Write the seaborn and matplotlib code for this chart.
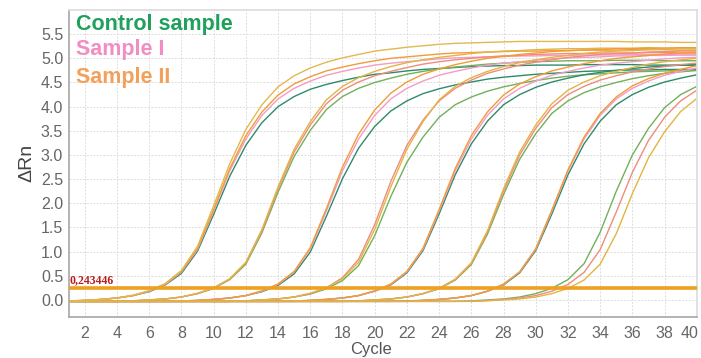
import matplotlib
matplotlib.use("Agg")
import pandas as pd
import matplotlib.pyplot as plt
import matplotlib.transforms as mtransforms
import seaborn as sns

# Cycle numbers and threshold
cycles = list(range(1, 41))
threshold = 0.243446

# dRn values, one list per well (cycle 1..40)
control_1 = [-0.02, -0.01, 0.01, 0.04, 0.09, 0.17, 0.31, 0.55, 1.01, 1.77,
             2.56, 3.2, 3.67, 4.0, 4.21, 4.36, 4.46, 4.54, 4.61, 4.67,
             4.7, 4.74, 4.77, 4.79, 4.81, 4.83, 4.84, 4.85, 4.85, 4.86,
             4.86, 4.86, 4.87, 4.87, 4.87, 4.87, 4.86, 4.86, 4.86, 4.85]
sample1_1 = [-0.03, -0.01, 0.01, 0.04, 0.09, 0.18, 0.32, 0.58, 1.05, 1.84,
             2.67, 3.33, 3.82, 4.16, 4.38, 4.53, 4.65, 4.73, 4.8, 4.86,
             4.9, 4.93, 4.96, 4.99, 5.01, 5.02, 5.03, 5.04, 5.05, 5.05,
             5.06, 5.06, 5.07, 5.07, 5.07, 5.08, 5.08, 5.08, 5.07, 5.07]
sample2_1 = [-0.02, -0.01, 0.01, 0.04, 0.09, 0.19, 0.33, 0.59, 1.07, 1.87,
             2.72, 3.4, 3.89, 4.24, 4.47, 4.62, 4.74, 4.82, 4.89, 4.95,
             5.0, 5.03, 5.06, 5.09, 5.11, 5.12, 5.13, 5.14, 5.15, 5.15,
             5.16, 5.16, 5.17, 5.17, 5.17, 5.18, 5.18, 5.18, 5.17, 5.17]
sample2_top = [-0.03, -0.01, 0.01, 0.04, 0.1, 0.19, 0.34, 0.61, 1.11, 1.95,
               2.82, 3.53, 4.04, 4.41, 4.64, 4.8, 4.92, 5.01, 5.08, 5.15,
               5.19, 5.23, 5.26, 5.29, 5.31, 5.32, 5.33, 5.34, 5.35, 5.35,
               5.35, 5.35, 5.35, 5.35, 5.35, 5.34, 5.34, 5.34, 5.33, 5.33]

control_2 = [-0.03, -0.03, -0.03, -0.03, -0.02, 0.0, 0.02, 0.06, 0.13, 0.24,
             0.42, 0.74, 1.39, 2.23, 2.97, 3.51, 3.94, 4.21, 4.38, 4.5,
             4.59, 4.67, 4.73, 4.78, 4.82, 4.85, 4.88, 4.9, 4.92, 4.93,
             4.94, 4.95, 4.95, 4.95, 4.96, 4.96, 4.96, 4.95, 4.95, 4.95]
sample1_2 = [-0.03, -0.03, -0.03, -0.03, -0.02, 0.0, 0.02, 0.06, 0.13, 0.24,
             0.43, 0.77, 1.43, 2.3, 3.06, 3.62, 4.06, 4.34, 4.51, 4.64,
             4.73, 4.81, 4.88, 4.93, 4.97, 5.0, 5.03, 5.05, 5.06, 5.08,
             5.09, 5.1, 5.1, 5.11, 5.11, 5.11, 5.12, 5.12, 5.11, 5.11]
sample2_2 = [-0.03, -0.03, -0.03, -0.03, -0.02, 0.0, 0.02, 0.06, 0.14, 0.25,
             0.44, 0.78, 1.46, 2.34, 3.12, 3.69, 4.14, 4.42, 4.6, 4.73,
             4.83, 4.91, 4.97, 5.02, 5.06, 5.1, 5.13, 5.15, 5.16, 5.18,
             5.19, 5.2, 5.2, 5.21, 5.21, 5.21, 5.22, 5.21, 5.21, 5.2]

control_3 = [-0.03, -0.03, -0.03, -0.03, -0.03, -0.03, -0.03, -0.02, -0.01, 0.01,
             0.04, 0.09, 0.17, 0.3, 0.54, 0.99, 1.73, 2.51, 3.14, 3.59,
             3.91, 4.12, 4.27, 4.37, 4.45, 4.51, 4.57, 4.61, 4.64, 4.67,
             4.69, 4.71, 4.73, 4.74, 4.75, 4.76, 4.76, 4.77, 4.77, 4.77]
sample1_3 = [-0.03, -0.03, -0.03, -0.03, -0.03, -0.03, -0.03, -0.03, -0.01, 0.01,
             0.04, 0.09, 0.18, 0.32, 0.58, 1.05, 1.84, 2.67, 3.33, 3.82,
             4.16, 4.38, 4.53, 4.65, 4.73, 4.8, 4.86, 4.9, 4.93, 4.96,
             4.99, 5.01, 5.02, 5.03, 5.05, 5.05, 5.06, 5.06, 5.07, 5.07]
sample2_3 = [-0.03, -0.03, -0.03, -0.03, -0.03, -0.03, -0.03, -0.03, -0.01, 0.01,
             0.04, 0.09, 0.19, 0.33, 0.59, 1.08, 1.89, 2.75, 3.43, 3.93,
             4.28, 4.51, 4.67, 4.78, 4.87, 4.94, 5.0, 5.04, 5.08, 5.11,
             5.14, 5.16, 5.17, 5.18, 5.2, 5.2, 5.21, 5.21, 5.22, 5.22]

control_4 = [-0.03, -0.03, -0.03, -0.03, -0.03, -0.03, -0.03, -0.03, -0.03, -0.03,
             -0.03, -0.02, 0.0, 0.02, 0.06, 0.12, 0.23, 0.4, 0.71, 1.33,
             2.14, 2.85, 3.37, 3.78, 4.04, 4.2, 4.32, 4.41, 4.48, 4.54,
             4.59, 4.63, 4.66, 4.68, 4.7, 4.72, 4.73, 4.74, 4.75, 4.75]
sample1_4 = [-0.03, -0.03, -0.03, -0.03, -0.03, -0.03, -0.03, -0.03, -0.03, -0.03,
             -0.03, -0.02, 0.0, 0.02, 0.06, 0.13, 0.25, 0.46, 0.84, 1.56,
             2.45, 3.2, 3.72, 4.12, 4.38, 4.55, 4.69, 4.78, 4.86, 4.92,
             4.97, 5.02, 5.05, 5.08, 5.1, 5.11, 5.13, 5.14, 5.15, 5.15]
sample2_4 = [-0.03, -0.03, -0.03, -0.03, -0.03, -0.03, -0.03, -0.03, -0.03, -0.03,
             -0.03, -0.02, 0.0, 0.02, 0.06, 0.14, 0.25, 0.44, 0.78, 1.46,
             2.34, 3.12, 3.69, 4.14, 4.42, 4.6, 4.73, 4.83, 4.91, 4.97,
             5.02, 5.06, 5.1, 5.13, 5.15, 5.16, 5.18, 5.19, 5.2, 5.2]

control_5 = [-0.03, -0.03, -0.03, -0.03, -0.03, -0.03, -0.03, -0.03, -0.03, -0.03,
             -0.03, -0.03, -0.03, -0.03, -0.02, -0.01, 0.01, 0.04, 0.09, 0.18,
             0.31, 0.56, 1.02, 1.78, 2.59, 3.23, 3.7, 4.04, 4.25, 4.4,
             4.51, 4.59, 4.66, 4.71, 4.75, 4.79, 4.82, 4.84, 4.86, 4.88]
sample1_5 = [-0.03, -0.03, -0.03, -0.03, -0.03, -0.03, -0.03, -0.03, -0.03, -0.03,
             -0.03, -0.03, -0.03, -0.03, -0.03, -0.01, 0.01, 0.04, 0.09, 0.18,
             0.32, 0.58, 1.05, 1.84, 2.67, 3.33, 3.82, 4.16, 4.38, 4.53,
             4.65, 4.73, 4.8, 4.86, 4.9, 4.93, 4.96, 4.99, 5.01, 5.02]
sample2_5 = [-0.03, -0.03, -0.03, -0.03, -0.03, -0.03, -0.03, -0.03, -0.03, -0.03,
             -0.03, -0.03, -0.03, -0.03, -0.03, -0.01, 0.01, 0.04, 0.09, 0.19,
             0.33, 0.59, 1.07, 1.87, 2.72, 3.4, 3.89, 4.24, 4.47, 4.62,
             4.74, 4.82, 4.89, 4.95, 5.0, 5.03, 5.06, 5.09, 5.11, 5.12]

control_6 = [-0.03, -0.03, -0.03, -0.03, -0.03, -0.03, -0.03, -0.03, -0.03, -0.03,
             -0.03, -0.03, -0.03, -0.03, -0.03, -0.03, -0.03, -0.03, -0.02, 0.0,
             0.02, 0.06, 0.13, 0.23, 0.41, 0.73, 1.36, 2.18, 2.91, 3.44,
             3.86, 4.12, 4.29, 4.41, 4.5, 4.58, 4.64, 4.69, 4.72, 4.75]
sample1_6 = [-0.03, -0.03, -0.03, -0.03, -0.03, -0.03, -0.03, -0.03, -0.03, -0.03,
             -0.03, -0.03, -0.03, -0.03, -0.03, -0.03, -0.03, -0.03, -0.02, 0.0,
             0.02, 0.06, 0.13, 0.24, 0.42, 0.75, 1.4, 2.25, 3.0, 3.55,
             3.98, 4.25, 4.42, 4.55, 4.64, 4.72, 4.78, 4.83, 4.87, 4.9]
sample2_6 = [-0.03, -0.03, -0.03, -0.03, -0.03, -0.03, -0.03, -0.03, -0.03, -0.03,
             -0.03, -0.03, -0.03, -0.03, -0.03, -0.03, -0.03, -0.03, -0.02, 0.0,
             0.02, 0.06, 0.13, 0.24, 0.43, 0.77, 1.43, 2.3, 3.06, 3.62,
             4.06, 4.34, 4.51, 4.64, 4.73, 4.81, 4.88, 4.93, 4.97, 5.0]

control_7 = [-0.03, -0.03, -0.03, -0.03, -0.03, -0.03, -0.03, -0.03, -0.03, -0.03,
             -0.03, -0.03, -0.03, -0.03, -0.03, -0.03, -0.03, -0.03, -0.03, -0.03,
             -0.03, -0.02, -0.01, 0.01, 0.04, 0.09, 0.18, 0.31, 0.56, 1.02,
             1.78, 2.59, 3.23, 3.7, 4.04, 4.25, 4.4, 4.51, 4.59, 4.66]
sample1_7 = [-0.03, -0.03, -0.03, -0.03, -0.03, -0.03, -0.03, -0.03, -0.03, -0.03,
             -0.03, -0.03, -0.03, -0.03, -0.03, -0.03, -0.03, -0.03, -0.03, -0.03,
             -0.03, -0.03, -0.01, 0.01, 0.04, 0.09, 0.18, 0.32, 0.58, 1.05,
             1.84, 2.67, 3.33, 3.82, 4.16, 4.38, 4.53, 4.65, 4.73, 4.8]
sample2_7 = [-0.03, -0.03, -0.03, -0.03, -0.03, -0.03, -0.03, -0.03, -0.03, -0.03,
             -0.03, -0.03, -0.03, -0.03, -0.03, -0.03, -0.03, -0.03, -0.03, -0.03,
             -0.03, -0.03, -0.01, 0.01, 0.04, 0.09, 0.18, 0.33, 0.58, 1.06,
             1.86, 2.69, 3.37, 3.86, 4.2, 4.43, 4.58, 4.69, 4.77, 4.85]

control_8 = [-0.03, -0.03, -0.03, -0.03, -0.03, -0.03, -0.03, -0.03, -0.03, -0.03,
             -0.03, -0.03, -0.03, -0.03, -0.03, -0.03, -0.03, -0.03, -0.03, -0.03,
             -0.03, -0.03, -0.03, -0.03, -0.03, -0.02, 0.0, 0.02, 0.06, 0.13,
             0.24, 0.42, 0.75, 1.4, 2.25, 3.0, 3.55, 3.98, 4.25, 4.42]
sample1_8 = [-0.03, -0.03, -0.03, -0.03, -0.03, -0.03, -0.03, -0.03, -0.03, -0.03,
             -0.03, -0.03, -0.03, -0.03, -0.03, -0.03, -0.03, -0.03, -0.03, -0.03,
             -0.03, -0.03, -0.03, -0.03, -0.03, -0.03, -0.01, 0.01, 0.04, 0.09,
             0.18, 0.32, 0.57, 1.04, 1.82, 2.64, 3.3, 3.78, 4.12, 4.34]
sample2_8 = [-0.03, -0.03, -0.03, -0.03, -0.03, -0.03, -0.03, -0.03, -0.03, -0.03,
             -0.03, -0.03, -0.03, -0.03, -0.03, -0.03, -0.03, -0.03, -0.03, -0.03,
             -0.03, -0.03, -0.03, -0.03, -0.03, -0.03, -0.02, 0.0, 0.02, 0.06,
             0.13, 0.24, 0.41, 0.74, 1.37, 2.2, 2.94, 3.48, 3.9, 4.17]

control_curves = [control_1, control_2, control_3, control_4,
                  control_5, control_6, control_7, control_8]
sample1_curves = [sample1_1, sample1_2, sample1_3, sample1_4,
                  sample1_5, sample1_6, sample1_7, sample1_8]
sample2_curves = [sample2_1, sample2_2, sample2_3, sample2_4,
                  sample2_5, sample2_6, sample2_7, sample2_8, sample2_top]

# Colour shades per sample
control_colors = ["#2e8a6c", "#72b05a"]
sample1_colors = ["#f29cc8", "#ef8c7e"]
sample2_colors = ["#f29b38", "#e2b445"]

# Long-form table for seaborn
rows = []
palette = {}
for prefix, curves, shades in [("ctrl", control_curves, control_colors),
                               ("s1", sample1_curves, sample1_colors),
                               ("s2", sample2_curves, sample2_colors)]:
    for i, vals in enumerate(curves):
        name = f"{prefix}_{i}"
        palette[name] = shades[i % 2]
        for c, v in zip(cycles, vals):
            rows.append({"cycle": c, "value": v, "curve": name})
df = pd.DataFrame(rows)
palette["s2_8"] = "#e3b84e"

sns.set_theme(style="white")
plt.rcParams["font.family"] = ["Liberation Sans", "DejaVu Sans"]

fig = plt.figure(figsize=(7.01, 3.58), dpi=100)
ax = fig.add_axes([0.098, 0.115, 0.896, 0.857])

sns.lineplot(data=df, x="cycle", y="value", hue="curve", units="curve",
             estimator=None, palette=palette, linewidth=1.0, legend=False,
             sort=False, ax=ax)

# Threshold line and its label
ax.axhline(threshold, color="#f0a020", linewidth=2.6, zorder=5)
ax.text(1.05, threshold + 0.05, "0,243446", color="#b81c1c", fontsize=8.5,
        fontweight="bold", family=["Liberation Serif", "DejaVu Serif"],
        va="bottom", ha="left", zorder=6)

# Axis setup
ax.set_xlim(1, 40)
ax.set_ylim(-0.35, 6.0)
ax.set_xticks(range(2, 41, 2))
ax.set_yticks([i * 0.5 for i in range(12)])
ax.set_yticklabels([f"{i * 0.5:.1f}" for i in range(12)])
ax.tick_params(axis="both", labelsize=11.5, colors="#666666", length=3,
               width=0.8, direction="out")
ax.tick_params(axis="y", length=0, pad=4)
ax.grid(True, color="#dddddd", linestyle=(0, (2, 1.5)), linewidth=0.7)
ax.set_axisbelow(True)
for side in ["left", "bottom"]:
    ax.spines[side].set_color("#aaaaaa")
for side in ["top", "right"]:
    ax.spines[side].set_color("#dddddd")

# pull the last x label inside the figure
last = ax.get_xticklabels()[-1]
last.set_transform(last.get_transform()
                   + mtransforms.ScaledTranslation(-0.07, 0, fig.dpi_scale_trans))

ax.set_xlabel("Cycle", fontsize=12, color="#555555")
ax.xaxis.set_label_coords(0.481, -0.083)
ax.set_ylabel("\u0394Rn", fontsize=14, color="#444444", labelpad=4)

# Sample names
ax.text(0.012, 0.952, "Control sample", transform=ax.transAxes, fontsize=15.5,
        fontweight="bold", color="#1fa05c", va="center", ha="left")
ax.text(0.012, 0.87, "Sample I", transform=ax.transAxes, fontsize=15.5,
        fontweight="bold", color="#f08ec4", va="center", ha="left")
ax.text(0.012, 0.78, "Sample II", transform=ax.transAxes, fontsize=15.5,
        fontweight="bold", color="#f3a05a", va="center", ha="left")

fig.savefig("out.png", dpi=100)
